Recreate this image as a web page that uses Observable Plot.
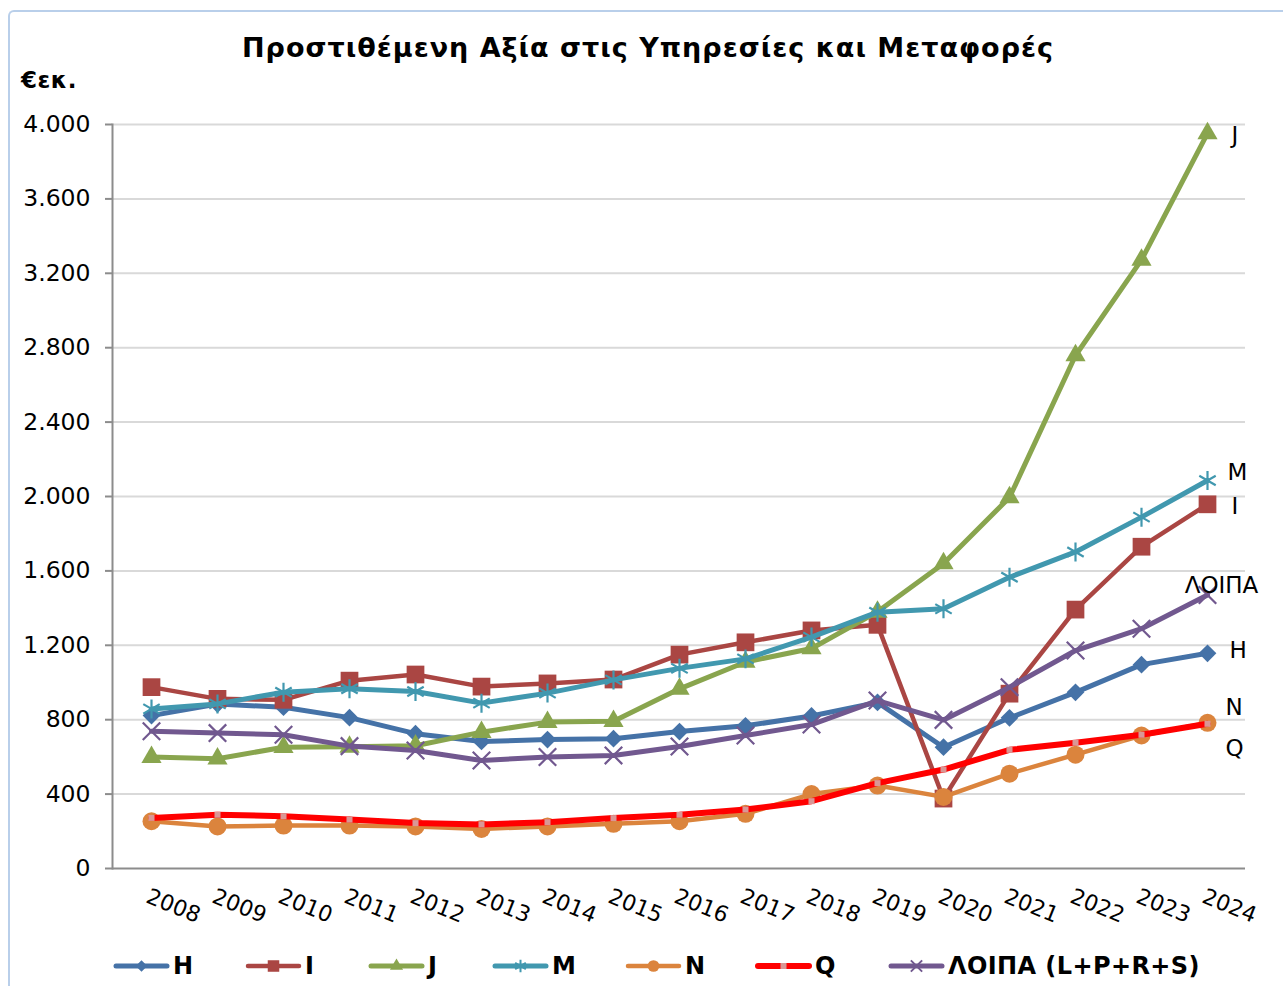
<!DOCTYPE html>
<html><head><meta charset="utf-8">
<script src="https://cdn.jsdelivr.net/npm/d3@7"></script>
<script src="https://cdn.jsdelivr.net/npm/@observablehq/plot@0.6"></script>
<style>
body{margin:0;background:#fff;font-family:"DejaVu Sans",Verdana,sans-serif;}
#wrap{position:relative;width:1283px;height:986px;overflow:hidden;background:#fff;}
#frame{position:absolute;left:8px;top:10px;right:-20px;bottom:-20px;border-left:2px solid #b9cfea;border-top:2px solid #b9cfea;border-top-left-radius:6px;}
#chart{position:absolute;left:0;top:0;}
#title{position:absolute;left:0;width:1296px;top:32px;text-align:center;font-weight:bold;font-size:27px;letter-spacing:1px;color:#000;}
#unit{position:absolute;left:21px;top:67px;font-weight:bold;font-size:23px;letter-spacing:0.5px;color:#000;}
#legend{position:absolute;left:0;top:952px;width:1283px;height:28px;font-weight:bold;font-size:24px;letter-spacing:0.4px;color:#000;}
.item{position:absolute;top:0;display:flex;align-items:center;gap:3px;}
.item svg{display:block;}
</style></head><body>
<div id="wrap"><div id="frame"></div><div id="chart"></div>
<div id="title">Προστιθέμενη Αξία στις Υπηρεσίες και Μεταφορές</div>
<div id="unit">€εκ.</div>
<div id="legend"></div></div>
<script>
const years = [2008,2009,2010,2011,2012,2013,2014,2015,2016,2017,2018,2019,2020,2021,2022,2023,2024];
const seriesNames = ["H","I","J","M","N","Q","ΛΟΙΠΑ"];
const legendLabels = ["H","I","J","M","N","Q","ΛΟΙΠΑ (L+P+R+S)"];
const yTicks = [0,400,800,1200,1600,2000,2400,2800,3200,3600,4000];
const H = [822,884,867,811,725,683,693,698,736,767,820,893,652,810,947,1096,1157];
const I = [975,912,907,1010,1043,978,995,1016,1150,1216,1280,1310,376,940,1392,1730,1958];
const J = [599,590,652,654,660,733,787,792,966,1110,1183,1380,1640,1995,2758,3272,3952];
const M = [858,885,948,966,952,889,943,1014,1076,1127,1244,1378,1396,1566,1702,1889,2086];
const N = [254,226,231,231,226,213,226,240,254,294,400,446,385,510,612,715,783];
const Q = [272,289,281,263,244,237,249,271,289,317,362,459,532,638,676,719,778];
const LOIPA = [738,728,719,658,634,581,599,608,656,715,774,903,799,975,1172,1289,1470];
const values = [H,I,J,M,N,Q,LOIPA];

const style = {
  "H":     {color:"#4572A7", width:5,   symbol:"diamond2", r:8,   fill:true},
  "I":     {color:"#AA4643", width:4.5, symbol:"square",   r:10,  fill:true},
  "J":     {color:"#89A54E", width:5,   symbol:"triangle", r:7.5, fill:true},
  "M":     {color:"#4198AF", width:5,   symbol:"asterisk", r:9,   fill:false},
  "N":     {color:"#DB843D", width:4.5, symbol:"circle",   r:9,   fill:true},
  "Q":     {color:"#FF0000", width:6,   symbol:"square",   r:3.4, fill:true, markerColor:"#D99795"},
  "ΛΟΙΠΑ": {color:"#71588F", width:5,   symbol:"times",    r:8,   fill:false}
};
const labelPos = {
  "J":[24,2,"start"], "M":[20,-8,"start"], "I":[24,2,"start"], "ΛΟΙΠΑ":[14,-9,"middle"],
  "H":[22,-3,"start"], "N":[18,-15,"start"], "Q":[18,25,"start"]
};
const legendLeft = [113,245,368,492,625,755,888];

const rows = seriesNames.flatMap((s,i)=>years.map((y,j)=>({series:s, year:y, value:values[i][j]})));
const fmt = d3.formatLocale({thousands:".", grouping:[3], decimal:","}).format(",d");

const marks = [
  Plot.gridY(yTicks.filter(d=>d>0), {stroke:"#d9d9d9", strokeOpacity:1, strokeWidth:2}),
  Plot.ruleY([0], {stroke:"#8c8c8c", strokeWidth:2}),
  Plot.frame({anchor:"left", stroke:"#8c8c8c", strokeWidth:2}),
  Plot.axisY({ticks:yTicks, tickFormat:fmt, tickSize:7, tickPadding:15, fontSize:23.5, stroke:"#8c8c8c", strokeWidth:2, fill:"#000", label:null}),
  Plot.axisX({tickFormat:"d", tickRotate:22, tickSize:0, tickPadding:27, fontSize:22, fill:"#000", label:null, dx:-4})
];
for (const s of seriesNames) {
  const st = style[s];
  const data = rows.filter(d=>d.series===s);
  marks.push(Plot.line(data, {x:"year", y:"value", stroke:st.color, strokeWidth:st.width, strokeLinejoin:"round", strokeLinecap:"round"}));
  const mc = st.markerColor || st.color;
  marks.push(Plot.dot(data, st.fill
    ? {x:"year", y:"value", symbol:()=>st.symbol, r:st.r, fill:mc, stroke:"none"}
    : {x:"year", y:"value", symbol:()=>st.symbol, r:st.r, stroke:mc, strokeWidth:2.2, fill:"none"}));
}
for (const s of seriesNames) {
  const last = rows.filter(d=>d.series===s && d.year===years[years.length-1]);
  const [dx,dy,anchor] = labelPos[s];
  marks.push(Plot.text(last, {x:"year", y:"value", text:()=>s, dx, dy, textAnchor:anchor, fontSize:23, fill:"#000"}));
}

const chart = Plot.plot({
  width:1283, height:945,
  marginTop:124, marginBottom:77, marginLeft:112, marginRight:38,
  style:{fontFamily:"DejaVu Sans, Verdana, sans-serif", color:"#000", background:"transparent", overflow:"visible"},
  x:{type:"point", domain:years, padding:0.5},
  y:{domain:[0,4000]},
  symbol:{type:"identity"},
  marks
});
document.getElementById("chart").appendChild(chart);

// legend
const legend = d3.select("#legend");
const symMap = {diamond2:d3.symbolDiamond2, square:d3.symbolSquare, triangle:d3.symbolTriangle, circle:d3.symbolCircle, times:d3.symbolTimes, asterisk:d3.symbolAsterisk};
seriesNames.forEach((s,i)=>{
  const st = style[s];
  const item = legend.append("div").attr("class","item").style("left", legendLeft[i]+"px");
  const svg = item.append("svg").attr("width",57).attr("height",28);
  svg.append("line").attr("x1",3).attr("x2",54).attr("y1",14).attr("y2",14)
    .attr("stroke",st.color).attr("stroke-width",st.width).attr("stroke-linecap","round");
  const size = s==="Q" ? 36 : Math.PI*Math.pow(st.r*0.65,2);
  const p = svg.append("path").attr("transform","translate(28.5,14)")
    .attr("d", d3.symbol(symMap[st.symbol], size)());
  const mc = st.markerColor || st.color;
  if (st.fill) p.attr("fill",mc); else p.attr("fill","none").attr("stroke",mc).attr("stroke-width",2);
  item.append("span").text(legendLabels[i]);
});
</script>
</body></html>
